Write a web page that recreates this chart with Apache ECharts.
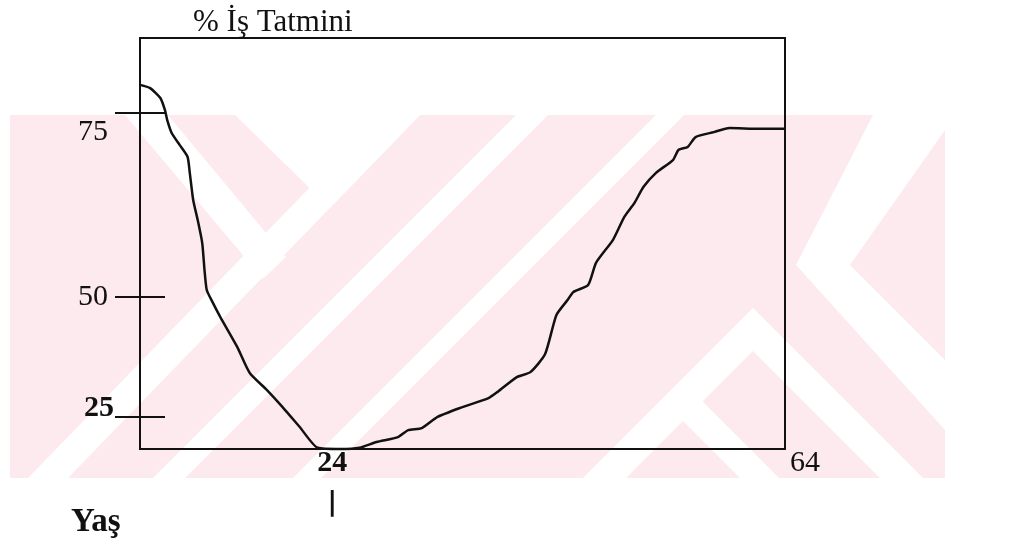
<!DOCTYPE html>
<html>
<head>
<meta charset="utf-8">
<script src="https://cdn.jsdelivr.net/npm/echarts@6/dist/echarts.min.js"></script>
<style>
  html, body { margin: 0; padding: 0; background: #fff; }
  #chart { width: 1012px; height: 539px; }
</style>
</head>
<body>
<div id="chart"></div>
<script>
// age (Yaş) and job satisfaction (y in the figure's own units, box = 0..100)
const ages = [7, 7.9, 8.8, 9.2, 9.4, 9.8, 10.5, 11.2, 11.4, 11.7, 12.1, 12.5, 12.7, 12.9, 13.4,
  14.1, 15.6, 16.7, 18.2, 19.6, 21.1, 22.7, 24.7, 26.4, 27.9, 29.8, 30.7, 31.9, 33.3, 35.3,
  37.8, 38.6, 40.3, 41.5, 42.8, 43.8, 44.8, 45.3, 46.6, 47.3, 48.8, 49.8, 50.7, 51.5, 52.6,
  54.1, 54.6, 55.4, 56.1, 57.7, 59.1, 61.7, 64];
const satisfaction = [88.6, 87.8, 85.4, 82.5, 80.1, 76.9, 74.0, 71.1, 67.2, 60.6, 55.7, 50.1, 43.6, 38.7, 35.8,
  32.1, 24.8, 18.5, 14.4, 10.2, 5.4, 0.3, 0, 0.3, 1.7, 2.9, 4.6, 5.1, 7.8, 10.0,
  12.4, 13.9, 17.5, 18.7, 23.1, 32.6, 36.3, 38.2, 39.9, 45.3, 50.9, 56.5, 59.9, 63.8, 67.2,
  70.3, 72.8, 73.5, 75.9, 77.1, 78.1, 77.9, 77.9];

// tick marks as drawn (hand placed on the original)
const yTickValues = [7.8, 37.0, 81.8];
const yTickLabels = ['25', '50', '75'];
const xTickValues = [24, 64];
const xTickLabels = ['24', '64'];

const serif = '"Liberation Serif", "DejaVu Serif", serif';
const pink = '#fdeaee';

// faint scanned watermark behind the figure (pink band with white cut-outs)
function poly(points, fill) {
  return { type: 'polygon', z: -20, silent: true, shape: { points: points }, style: { fill: fill } };
}
const watermark = [
  { type: 'rect', z: -20, silent: true, shape: { x: 10, y: 115, width: 935, height: 363 }, style: { fill: pink } },
  poly([[235, 115], [420, 115], [330, 208]], '#fff'),
  poly([[380, 115], [420, 115], [68, 478], [28, 478]], '#fff'),
  poly([[125, 115], [168, 115], [286, 257], [263, 279]], '#fff'),
  poly([[516, 115], [548, 115], [185, 478], [153, 478]], '#fff'),
  poly([[656, 115], [684, 115], [321, 478], [293, 478]], '#fff'),
  poly([[873, 115], [945, 115], [945, 130], [850, 265], [945, 360], [945, 430], [796, 265]], '#fff'),
  poly([[753, 308], [923, 478], [880, 478], [753, 351], [626, 478], [583, 478]], '#fff'),
  poly([[683, 382], [779, 478], [740, 478], [683, 421]], '#fff')
];

const chart = echarts.init(document.getElementById('chart'));

const option = {
  animation: false,
  backgroundColor: '#fff',
  textStyle: { fontFamily: serif, color: '#111' },
  graphic: watermark,
  title: [
    { text: '% İş Tatmini', left: 188, top: 2,
      textStyle: { fontFamily: serif, fontSize: 31, fontWeight: 'normal', color: '#111' } },
    { text: 'Yaş', left: 66, top: 501,
      textStyle: { fontFamily: serif, fontSize: 33, fontWeight: 'bold', color: '#111' } }
  ],
  grid: {
    left: 140, right: 227, top: 38, bottom: 90,
    show: true, borderColor: '#111', borderWidth: 2, backgroundColor: 'transparent'
  },
  xAxis: {
    type: 'value', min: 7, max: 64,
    splitLine: { show: false },
    axisLine: { show: true, onZero: false, lineStyle: { color: '#111', width: 2 } },
    axisTick: { show: false },
    axisLabel: {
      customValues: xTickValues,
      margin: 1,
      formatter: (v) => {
        const t = xTickLabels[xTickValues.indexOf(v)];
        return v === 24 ? '{b|' + t + '}\n{t||}' : '{n|' + t + '}';
      },
      rich: {
        b: { fontFamily: serif, fontSize: 30, fontWeight: 'bold', lineHeight: 26, color: '#111' },
        t: { fontFamily: '"DejaVu Sans", sans-serif', fontSize: 26, fontWeight: 'bold', lineHeight: 54, color: '#111' },
        n: { fontFamily: serif, fontSize: 30, lineHeight: 26, padding: [0, 0, 0, 40], color: '#111' }
      }
    }
  },
  yAxis: [
    {
      type: 'value', min: 0, max: 100,
      splitLine: { show: false },
      axisLine: { show: true, lineStyle: { color: '#111', width: 2 } },
      axisTick: { show: true, customValues: yTickValues, length: 25, lineStyle: { color: '#111', width: 2 } },
      axisLabel: {
        customValues: yTickValues,
        margin: 26,
        formatter: (v) => {
          const t = yTickLabels[yTickValues.indexOf(v)];
          if (t === '75') return '{a|' + t + '}';
          if (t === '25') return '{c|' + t + '}';
          return '{m|' + t + '}';
        },
        rich: {
          a: { fontFamily: serif, fontSize: 30, color: '#111', padding: [38, 6, 0, 0] },
          m: { fontFamily: serif, fontSize: 30, color: '#111', padding: [0, 6, 0, 0] },
          c: { fontFamily: serif, fontSize: 30, fontWeight: 'bold', color: '#111', padding: [0, 0, 18, 0] }
        }
      }
    },
    {
      type: 'value', min: 0, max: 100, position: 'left',
      splitLine: { show: false },
      axisLine: { show: false },
      axisLabel: { show: false },
      axisTick: { show: true, inside: true, customValues: yTickValues, length: 25, lineStyle: { color: '#111', width: 2 } }
    }
  ],
  series: [
    {
      type: 'line',
      data: ages.map((a, i) => [a, satisfaction[i]]),
      smooth: 0.2,
      showSymbol: false,
      clip: false,
      lineStyle: { color: '#111', width: 2.5 }
    }
  ]
};

chart.setOption(option);
</script>
</body>
</html>
